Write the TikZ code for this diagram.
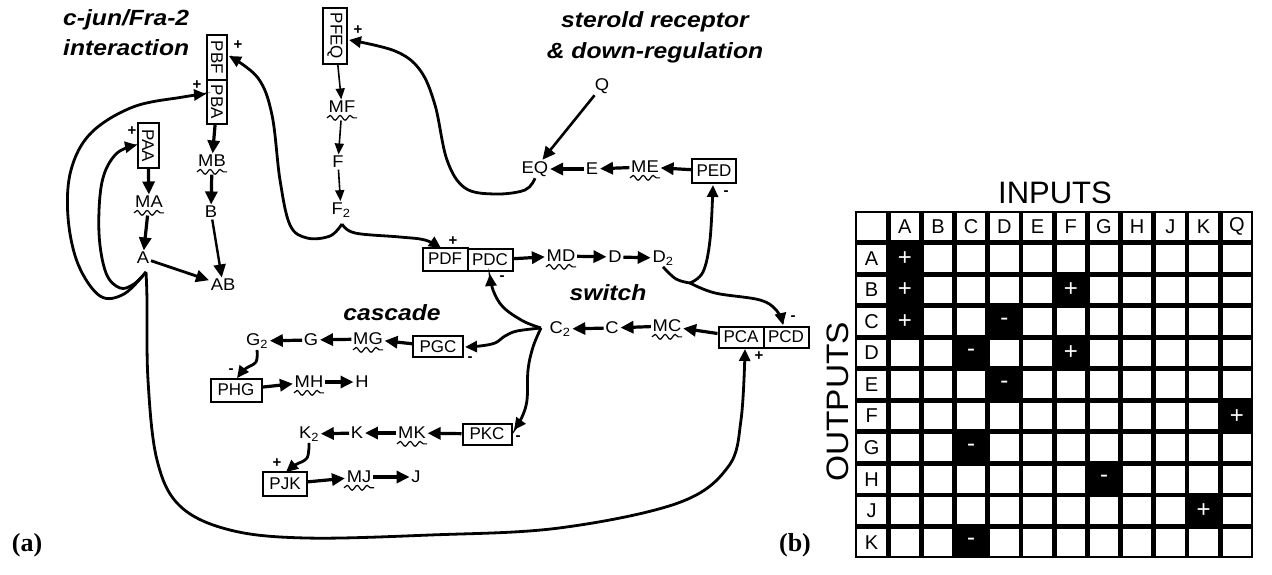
\documentclass[tikz,border=0pt]{standalone}
\usepackage{fontspec}
\setmainfont{Liberation Sans}
\newfontfamily\timesf{Liberation Serif}
\usetikzlibrary{arrows.meta,decorations.pathmorphing,calc}
\begin{document}
\begin{tikzpicture}[x=1pt,y=-1pt,
 lab/.style={font=\fontsize{17}{17}\selectfont, inner sep=1.5pt, xscale=1.08},
 pbox/.style={draw, line width=2pt, font=\fontsize{17}{17}\selectfont, inner sep=0pt, minimum width=45pt, minimum height=22pt},
 vbox/.style={pbox, rotate=-90},
 sgn/.style={font=\bfseries\fontsize{15}{15}\selectfont, inner sep=0pt},
 ttl/.style={font=\bfseries\itshape\fontsize{22}{22}\selectfont, xscale=1.12, inner sep=0pt},
 arr/.style={line width=3.2pt, -{Triangle[length=13pt,width=12pt]}},
 tarr/.style={line width=1.6pt, -{Triangle[length=11pt,width=9pt]}},
 carr/.style={line width=2.8pt, -{Triangle[length=12pt,width=11pt]}},
 wav/.style={line width=1.2pt, decorate, decoration={snake, segment length=10pt, amplitude=2.4pt}},
 mcell/.style={font=\fontsize{20}{20}\selectfont, inner sep=0pt},
 csign/.style={font=\fontsize{24}{24}\selectfont, text=white, inner sep=0pt},
 ptag/.style={font=\timesf\bfseries\fontsize{26}{26}\selectfont, inner sep=0pt},
]
\useasboundingbox (0,0) rectangle (1272,574);

% titles
\node[ttl, anchor=west] (t1) at (63,20) {c-jun/Fra-2};
\node[ttl, anchor=west] (t2) at (63,48) {interaction};
\node[ttl] (t3) at (655,22) {sterold receptor};
\node[ttl] (t4) at (655,53) {\& down-regulation};
\node[ttl] (t5) at (392,313) {cascade};
\node[ttl] (t6) at (608,293) {switch};
\node[ptag] (pa) at (27,545) {(a)};
\node[ptag] (pb) at (795,545) {(b)};

% boxes
\node[vbox, minimum width=45pt, minimum height=20pt] (PBF) at (217,57.5) {PBF};
\node[vbox, minimum width=44pt, minimum height=20pt] (PBA) at (217,102) {PBA};
\node[vbox, minimum width=45pt, minimum height=21pt] (PAA) at (148,145.5) {PAA};
\node[vbox, minimum width=56pt, minimum height=24pt] (PFEQ) at (335,36) {PFEQ};
\node[pbox, minimum width=44pt, minimum height=24pt] (PED) at (714,171) {PED};
\node[pbox, minimum height=23pt] (PDF) at (445,259) {PDF};
\node[pbox] (PDC) at (490,260) {PDC};
\node[pbox, minimum height=21pt] (PCA) at (741,337) {PCA};
\node[pbox, minimum height=21pt] (PCD) at (786,337) {PCD};
\node[pbox, minimum width=50pt, minimum height=21pt] (PGC) at (438,346.5) {PGC};
\node[pbox, minimum width=51pt, minimum height=23pt] (PHG) at (236,390) {PHG};
\node[pbox, minimum width=49pt, minimum height=21pt] (PKC) at (487,434) {PKC};
\node[pbox, minimum width=44pt, minimum height=24pt] (PJK) at (285,484) {PJK};

% labels
\node[lab] (MA) at (149,202) {MA};
\node[lab] (A) at (143,258) {A};
\node[lab] (MB) at (212,161) {MB};
\node[lab] (B) at (211,212) {B};
\node[lab] (AB) at (223,285) {AB};
\node[lab] (MF) at (342,107) {MF};
\node[lab] (F) at (338,162) {F};
\node[lab] (F2) at (341,210) {F\textsubscript{2}};
\node[lab] (Q) at (602,86) {Q};
\node[lab] (EQ) at (535,169) {EQ};
\node[lab] (E) at (592,169) {E};
\node[lab] (ME) at (645,167) {ME};
\node[lab] (MD) at (561,256) {MD};
\node[lab] (D) at (615,257) {D};
\node[lab] (D2) at (663,258) {D\textsubscript{2}};
\node[lab] (C2) at (560,329) {C\textsubscript{2}};
\node[lab] (C) at (612,328) {C};
\node[lab] (MC) at (667,326) {MC};
\node[lab] (G2) at (257,341) {G\textsubscript{2}};
\node[lab] (G) at (311,340) {G};
\node[lab] (MG) at (368,339) {MG};
\node[lab] (MH) at (309,382) {MH};
\node[lab] (H) at (362,382) {H};
\node[lab] (K2) at (309,434) {K\textsubscript{2}};
\node[lab] (K) at (357,433) {K};
\node[lab] (MK) at (412,433) {MK};
\node[lab] (MJ) at (359,477) {MJ};
\node[lab] (J) at (416,477) {J};

\foreach \m in {MA,MB,MF,ME,MD,MC,MG,MH,MK,MJ}
  \draw[wav] ($(\m.base)+(-15,5)$) -- ++(30,0);

% signs
\node[sgn] (s1) at (238,45) {+};
\node[sgn] (s2) at (197,85) {+};
\node[sgn] (s3) at (132,131) {+};
\node[sgn] (s4) at (358,30) {+};
\node[sgn] (s5) at (453,241) {+};
\node[sgn] (s6) at (502,278) {-};
\node[sgn] (s7) at (726,193) {-};
\node[sgn] (s8) at (470,359) {-};
\node[sgn] (s9) at (231,371) {-};
\node[sgn] (s10) at (518,438) {-};
\node[sgn] (s11) at (277,463) {+};
\node[sgn] (s12) at (793,318) {-};
\node[sgn] (s13) at (759,356) {+};

% straight arrows
\draw[arr] (PAA) -- (MA);
\draw[arr, shorten <=6pt] (MA) -- (A);
\draw[arr] (PBA) -- (MB);
\draw[arr, shorten <=6pt] (MB) -- (B);
\draw[arr, line width=2.4pt] (B) -- (AB);
\draw[arr, line width=2.8pt] (A) -- (AB);
\draw[tarr] (PFEQ) -- (MF);
\draw[tarr, shorten <=6pt] (MF) -- (F);
\draw[tarr] (F) -- (F2);
\draw[arr, line width=2.6pt] (Q) -- (EQ);
\draw[arr] (PED) -- (ME);
\draw[arr] (ME) -- (E);
\draw[arr] (E) -- (EQ);
\draw[arr] (PDC) -- (MD);
\draw[arr] (MD) -- (D);
\draw[arr] (D) -- (D2);
\draw[arr] (PCA) -- (MC);
\draw[arr] (MC) -- (C);
\draw[arr] (C) -- (C2);
\draw[arr] (PGC) -- (MG);
\draw[arr] (MG) -- (G);
\draw[arr] (G) -- (G2);
\draw[arr] (PHG) -- (MH);
\draw[arr] (MH) -- (H);
\draw[arr] (PKC) -- (MK);
\draw[arr] (MK) -- (K);
\draw[arr] (K) -- (K2);
\draw[arr] (PJK) -- (MJ);
\draw[arr] (MJ) -- (J);

% fork points
\coordinate (Aout) at (146,272);
\coordinate (Ff) at (342,224);
\coordinate (Df) at (690,283);
\coordinate (Cf) at (541,328);

% loops from A
\draw[carr] plot[smooth, tension=0.6] coordinates {(Aout) (134,284) (120,288) (106,273) (99,233) (102,182) (116,154) (137,145)};
\draw[carr] plot[smooth, tension=0.6] coordinates {(Aout) (124,294) (100,296) (78,264) (68,217) (71,170) (91,133) (133,107) (183,97) (206,94)};
\draw[carr] plot[smooth, tension=0.6] coordinates {(Aout) (147,300) (148,380) (157,460) (180,506) (230,530) (306,538) (430,535) (559,528) (678,503) (728,467) (741,420) (745,349)};

% F2 fork
\draw[carr] plot[smooth, tension=0.6] coordinates {(Ff) (330,236) (307,238) (290,225) (280,180) (272,115) (258,78) (229,56)};
\draw[carr] plot[smooth, tension=0.6] coordinates {(Ff) (355,233) (400,237) (425,240) (441,248)};

% EQ -> PFEQ
\draw[carr] plot[smooth, tension=0.6] coordinates {(EQ.south) (525,190) (495,194) (465,188) (447,160) (435,105) (420,70) (395,51) (349,40)};

% D2 fork
\draw[carr, -] plot[smooth, tension=0.6] coordinates {(D2.south) (676,279) (Df)};
\draw[carr] plot[smooth, tension=0.6] coordinates {(Df) (703,272) (710,240) (713,185)};
\draw[carr] plot[smooth, tension=0.6] coordinates {(Df) (715,293) (760,300) (777,311) (783,325)};

% C2 fork
\draw[carr] plot[smooth, tension=0.6] coordinates {(Cf) (523,321) (503,307) (493,290) (490,274)};
\draw[carr] plot[smooth, tension=0.6] coordinates {(Cf) (517,331) (505,336) (495,343) (480,346) (465,347)};
\draw[carr] plot[smooth, tension=0.6] coordinates {(Cf) (533,347) (528,370) (527,400) (522,417) (514,430)};

% G2 -> PHG, K2 -> PJK
\draw[carr] plot[smooth, tension=0.6] coordinates {(G2.south) (256,362) (245,369) (237,378)};
\draw[carr] plot[smooth, tension=0.6] coordinates {(K2.south) (307,458) (295,465) (286,472)};

% matrix
\def\cw{33.2}
\def\rh{31.55}
\node[font=\fontsize{31}{31}\selectfont, inner sep=0pt] (inp) at (1055,193) {INPUTS};
\node[font=\fontsize{31}{31}\selectfont, inner sep=0pt, rotate=90, xscale=1.08] (outp) at (838,402) {OUTPUTS};
\fill (855,211) rectangle ({855+12*\cw},{211+11*\rh});
\foreach \r in {0,...,10}
  \foreach \c in {0,...,11}
    \fill[white] ({855+\c*\cw+2.4},{211+\r*\rh+2.4}) rectangle ({855+(\c+1)*\cw-2.4},{211+(\r+1)*\rh-2.4});
\foreach \l [count=\i] in {A,B,C,D,E,F,G,H,J,K,Q}
  \node[mcell] (col\l) at ({855+(\i+0.5)*\cw},{211+0.5*\rh}) {\l};
\foreach \l [count=\i] in {A,B,C,D,E,F,G,H,J,K}
  \node[mcell] (row\l) at ({855+0.5*\cw},{211+(\i+0.5)*\rh}) {\l};
\foreach \r/\c/\s in {1/1/+, 2/1/+, 3/1/+, 2/6/+, 3/4/-, 4/3/-, 4/6/+, 5/4/-, 6/11/+, 7/3/-, 8/7/-, 9/10/+, 10/3/-} {
  \fill ({855+\c*\cw},{211+\r*\rh}) rectangle ++(\cw,\rh);
  \node[csign] (sg\r x\c) at ({855+(\c+0.5)*\cw},{211+(\r+0.5)*\rh}) {\s};
}
\end{tikzpicture}
\end{document}
